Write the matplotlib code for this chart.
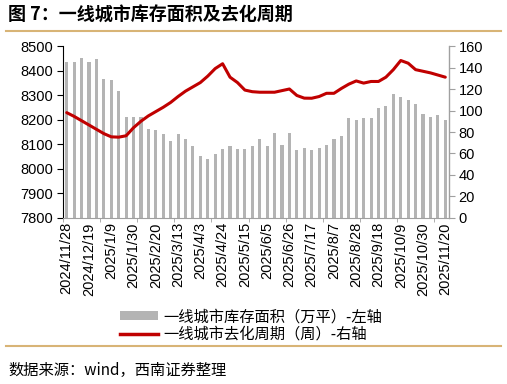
import numpy as np
import pandas as pd
import matplotlib
matplotlib.use("Agg")
import matplotlib.pyplot as plt
from matplotlib.patches import Patch
from matplotlib.lines import Line2D

plt.rcParams['font.family'] = ['Liberation Sans', 'Noto Sans CJK SC', 'DejaVu Sans']

# weekly data, 2024/11/28 .. 2025/11/20
dates = pd.date_range('2024-11-28', periods=52, freq='7D')
labels = [f"{d.year}/{d.month}/{d.day}" for d in dates]

# inventory area (10k sqm) - left axis
inventory = [8433, 8433, 8450, 8433, 8446, 8365, 8360, 8316, 8213, 8213,
             8213, 8164, 8158, 8140, 8115, 8140, 8120, 8091, 8053, 8042,
             8059, 8079, 8091, 8079, 8079, 8091, 8120, 8091, 8145, 8096,
             8145, 8078, 8084, 8078, 8084, 8096, 8120, 8133, 8206, 8200,
             8206, 8206, 8248, 8255, 8304, 8292, 8280, 8262, 8225, 8213,
             8218, 8200]

# months of supply (weeks) - right axis
cycle = [98, 94.5, 90.5, 86.5, 82.5, 78.5, 75.5, 75.2, 76.5, 84,
         90, 95, 99, 103, 107.5, 113, 118, 122, 126, 132,
         139, 143.5, 131, 126, 119, 117.5, 117, 117, 117, 118.5,
         120, 114, 111.5, 111.4, 113, 116, 116, 120.5, 124.5, 127.5,
         125.5, 127, 127, 131, 138, 146.5, 144, 138, 136.5, 135,
         133, 131]

bar_name = "一线城市库存面积（万平）-左轴"
line_name = "一线城市去化周期（周）-右轴"
title = "图 7：一线城市库存面积及去化周期"
source = "数据来源：wind，西南证券整理"

bar_color = '#b4b4b4'
line_color = '#c00000'
axis_gray = '#a0a0a0'
rule_color = '#d8b476'

fig = plt.figure(figsize=(5.07, 3.84), dpi=100)
ax = fig.add_axes([0.1243, 0.4323, 0.7613, 0.4479])
x = np.arange(len(dates))

ax.bar(x, inventory, width=0.42, color=bar_color, zorder=2)
ax.set_ylim(7800, 8500)
ax.set_yticks(np.arange(7800, 8501, 100))
ax.set_xlim(-0.5, len(dates) - 0.5)

ax2 = ax.twinx()
ax2.plot(x, cycle, color=line_color, linewidth=2.2, solid_capstyle='round')
ax2.set_ylim(0, 160)
ax2.set_yticks(np.arange(0, 161, 20))

# x ticks: labels every 3 weeks, small marks every 5 bars
ax.set_xticks(x[::3])
ax.set_xticklabels(labels[::3], rotation=90, fontsize=10.5)
ax.set_xticks(np.arange(-0.5, len(dates), 5), minor=True)
ax.tick_params(axis='x', which='major', length=0, pad=3)
ax.tick_params(axis='x', which='minor', length=3, color=axis_gray, direction='out')

ax.tick_params(axis='y', labelsize=10.5, length=4, color='black', pad=3)
ax2.tick_params(axis='y', labelsize=10.5, length=4, color=axis_gray, pad=3)

for a in (ax, ax2):
    a.spines['top'].set_visible(False)
ax.spines['left'].set_color('black')
ax.spines['bottom'].set_color(axis_gray)
ax2.spines['right'].set_color(axis_gray)
ax2.spines['left'].set_visible(False)
ax2.spines['bottom'].set_visible(False)

handles = [Patch(facecolor=bar_color, edgecolor='none'),
           Line2D([0], [0], color=line_color, linewidth=2.5)]
fig.legend(handles, [bar_name, line_name], loc='center left',
           bbox_to_anchor=(0.215, 0.152), ncol=1, frameon=False,
           fontsize=11, handlelength=2.5, handleheight=0.5,
           handletextpad=0.35, labelspacing=0.05, borderpad=0.2,
           prop={'family': ['Noto Sans CJK SC'], 'weight': 'light', 'size': 11})

fig.text(0.016, 0.96, title, fontsize=13, fontweight='bold',
         family=['Noto Sans CJK SC'], va='center', ha='left')
fig.add_artist(Line2D([0.012, 0.988], [0.918, 0.918], transform=fig.transFigure,
                      color=rule_color, linewidth=1.5))
fig.add_artist(Line2D([0.012, 0.988], [0.099, 0.099], transform=fig.transFigure,
                      color=rule_color, linewidth=1.5))
fig.text(0.016, 0.036, source, fontsize=11, style='italic',
         family=['Noto Sans CJK SC', 'DejaVu Sans'], va='center', ha='left')

fig.savefig('out.png', dpi=100)
